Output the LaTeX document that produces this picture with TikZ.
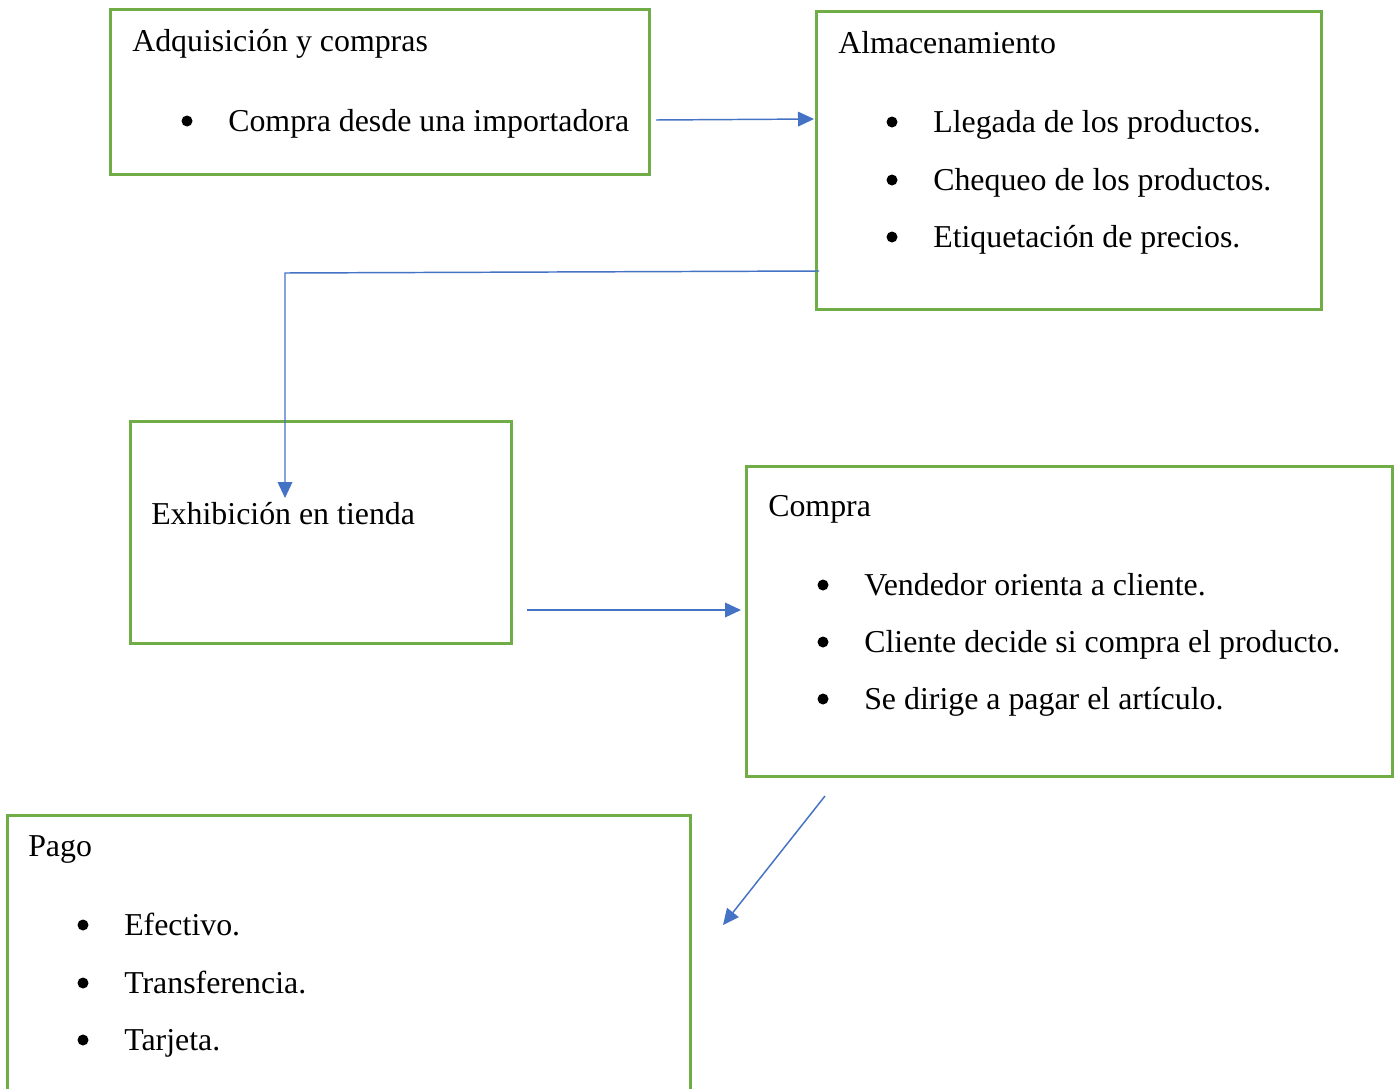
\documentclass[tikz,border=0pt]{standalone}
\usepackage{fontspec}
\setmainfont{Liberation Serif}
\usetikzlibrary{fit,arrows.meta}
\definecolor{boxgreen}{HTML}{70AD47}
\definecolor{arrowblue}{HTML}{4472C4}
\tikzset{
  stagebox/.style={draw=boxgreen, line width=2.25pt, inner sep=0pt},
  txt/.style={anchor=base west, inner sep=0pt, font=\fontsize{23.9}{28}\selectfont},
  bul/.style={fill=black, draw=none},
  flow/.style={draw=arrowblue, line width=1.1pt, -{Triangle[length=12pt,width=11pt]}},
}
\begin{document}
\begin{tikzpicture}[x=0.75pt,y=-0.75pt]
\clip (0,0) rectangle (1398,1088);
\fill[white] (0,0) rectangle (1398,1088);
% boxes
\node[stagebox, fit={(110,10)(649,174)}] (b1) {};
\node[stagebox, fit={(816,12)(1321,309)}] (b2) {};
\node[stagebox, fit={(130,421)(511,643)}] (b3) {};
\node[stagebox, fit={(746,466)(1392,776)}] (b4) {};
\node[stagebox, fit={(7,815)(690,1110)}] (b5) {};
% box 1
\node[txt] (t1) at (132,52) {Adquisición y compras};
\fill[bul] (187,121) circle (5.5);
\node[txt] (t1a) at (228,131) {Compra desde una importadora};
% box 2
\node[txt] (t2) at (838,54) {Almacenamiento};
\fill[bul] (892,122) circle (5.5);
\fill[bul] (892,180) circle (5.5);
\fill[bul] (892,237) circle (5.5);
\node[txt] (t2a) at (933,132) {Llegada de los productos.};
\node[txt] (t2b) at (933,190) {Chequeo de los productos.};
\node[txt] (t2c) at (933,247) {Etiquetación de precios.};
% box 3
\node[txt] (t3) at (151,524) {Exhibición en tienda};
% box 4
\node[txt] (t4) at (768,516) {Compra};
\fill[bul] (823,585) circle (5.5);
\fill[bul] (823,642) circle (5.5);
\fill[bul] (823,699) circle (5.5);
\node[txt] (t4a) at (864,595) {Vendedor orienta a cliente.};
\node[txt] (t4b) at (864,652) {Cliente decide si compra el producto.};
\node[txt] (t4c) at (864,709) {Se dirige a pagar el artículo.};
% box 5
\node[txt] (t5) at (28,856) {Pago};
\fill[bul] (83,925) circle (5.5);
\fill[bul] (83,983) circle (5.5);
\fill[bul] (83,1040) circle (5.5);
\node[txt] (t5a) at (124,935) {Efectivo.};
\node[txt] (t5b) at (124,993) {Transferencia.};
\node[txt] (t5c) at (124,1050) {Tarjeta.};
% connector ends
\coordinate (a1s) at (656,120);
\coordinate (a1e) at (814,119);
\coordinate (a2s) at (819,271);
\coordinate (a2m) at (285,273);
\coordinate (a2e) at (285,498);
\coordinate (a3s) at (527,610);
\coordinate (a3e) at (741,610);
\coordinate (a4s) at (825,796);
\coordinate (a4e) at (723,925);
\draw[flow] (a1s) -- (a1e);
\draw[flow] (a2s) -- (a2m) -- (a2e);
\draw[flow] (a3s) -- (a3e);
\draw[flow] (a4s) -- (a4e);
\end{tikzpicture}
\end{document}
